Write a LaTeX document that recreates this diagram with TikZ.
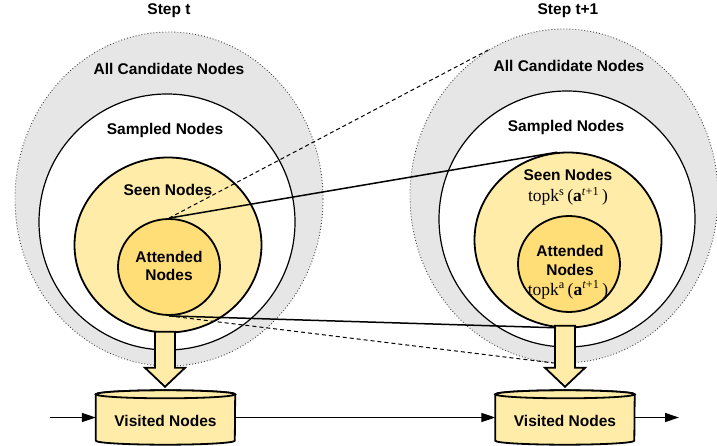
\documentclass[tikz,border=0pt]{standalone}
\usepackage{fontspec}
\setmainfont{Liberation Sans}
\newfontfamily\formulafont{Liberation Serif}
\usetikzlibrary{shapes.geometric,arrows.meta,calc,backgrounds}

\definecolor{candgray}{HTML}{E6E6E6}
\definecolor{seenyellow}{HTML}{FFECA8}
\definecolor{attyellow}{HTML}{FFDE78}

\begin{document}
\begin{tikzpicture}[x=1pt,y=-1pt,
  candidate/.style={ellipse, inner sep=0pt, fill=candgray, draw=black!75,
    dash pattern=on 0.9pt off 2.1pt, line width=0.9pt,
    minimum width=308pt, minimum height=334pt},
  sampled/.style={ellipse, inner sep=0pt, fill=white, draw=black,
    line width=1.2pt, minimum width=256pt, minimum height=256pt},
  seen/.style={ellipse, inner sep=0pt, fill=seenyellow, draw=black,
    line width=1.8pt, minimum width=187pt, minimum height=175pt},
  attended/.style={ellipse, inner sep=0pt, fill=attyellow, draw=black,
    line width=1.8pt, minimum width=102pt, minimum height=96pt},
  lbl/.style={font=\bfseries\fontsize{15.5}{18}\selectfont, anchor=base, inner sep=0pt},
  formula/.style={font=\formulafont\fontsize{17.5}{20}\selectfont, anchor=base, inner sep=0pt},
  visbox/.style={font=\bfseries\fontsize{15.5}{18}\selectfont, inner sep=0pt,
    minimum width=139pt, minimum height=54pt, text height=17pt, text depth=0pt},
  link/.style={line width=1.5pt},
  hint/.style={line width=1pt, dash pattern=on 4pt off 3pt},
  flow/.style={line width=1.3pt, -{Triangle[length=14pt,width=9pt]}},
  pushdown/.style={fill=seenyellow, draw=black, line width=1.8pt, line join=miter},
  drum/.style={fill=seenyellow, draw=black, line width=1.8pt},
]
\useasboundingbox (0,0) rectangle (717,446);

% nested node sets, step t (left) and step t+1 (right)
\node[candidate] (lcand) at (169,199) {};
\node[candidate] (rcand) at (564,196) {};
\node[sampled] (lsamp) at (167,222) {};
\node[sampled] (rsamp) at (567,219) {};
\node[seen] (lseen) at (168,245) {};
\node[seen] (rseen) at (568,240) {};
\node[attended] (latt) at (169,267) {};
\node[attended] (ratt) at (569,264) {};

% titles and set labels
\node[lbl] (lstep) at (169,15) {Step t};
\node[lbl] (rstep) at (568,14.5) {Step t+1};
\node[lbl] (lcandtxt) at (169,75) {All Candidate Nodes};
\node[lbl] (rcandtxt) at (569,72) {All Candidate Nodes};
\node[lbl] (lsamptxt) at (165,135) {Sampled Nodes};
\node[lbl] (rsamptxt) at (566,132) {Sampled Nodes};
\node[lbl] (lseentxt) at (168,196) {Seen Nodes};
\node[lbl] (rseentxt) at (568,181) {Seen Nodes};
\node[formula] (rseenf) at (568,202) {topk\textsuperscript{s}\,(\textbf{a}\textsuperscript{\textit{t}+1}\,)};
\node[lbl] (latttxta) at (169,262) {Attended};
\node[lbl] (latttxtb) at (169,280) {Nodes};
\node[lbl] (ratttxta) at (570,257) {Attended};
\node[lbl] (ratttxtb) at (570,275.5) {Nodes};
\node[formula] (rattf) at (568,295) {topk\textsuperscript{a}\,(\textbf{a}\textsuperscript{\textit{t}+1}\,)};

% projection lines from the attended set at step t
\draw[link] (latt.north) -- (rseen.97);
\draw[hint] (latt.north) -- (rcand.117);
\draw[link] (latt.south) -- (rseen.263);
\draw[hint] (latt.south) -- (rcand.267);

% visited-node stores
\node[visbox] (lvis) at (165.5,417.5) {Visited Nodes};
\node[visbox] (rvis) at (565,417.5) {Visited Nodes};
\begin{pgfonlayer}{background}
  \foreach \v in {lvis,rvis}{
    \filldraw[drum] ($(\v.north west)+(0,4)$) -- ($(\v.south west)+(0,-4)$)
      arc[start angle=180,end angle=360,x radius=69.5pt,y radius=4pt]
      -- ($(\v.north east)+(0,4)$)
      arc[start angle=0,end angle=180,x radius=69.5pt,y radius=4pt] -- cycle;
    \filldraw[drum] ($(\v.north)+(0,4)$) ellipse[x radius=69.5pt,y radius=4pt];
  }
\end{pgfonlayer}

% block arrows from the seen set into the store
\filldraw[pushdown] ($(lvis.north)+(-0.5,-3.5)$) -- ++(20,-19) -- ++(-10,0) -- ++(0,-36)
  -- ++(-20,0) -- ++(0,36) -- ++(-10,0) -- cycle;
\filldraw[pushdown] ($(rvis.north)+(0,-3.5)$) -- ++(20,-19) -- ++(-10,0) -- ++(0,-42)
  -- ++(-20,0) -- ++(0,42) -- ++(-10,0) -- cycle;

% flow between steps
\coordinate (entry) at (50,417.5);
\coordinate (exit) at (679,417.5);
\draw[flow] (entry) -- (entry -| lvis.west);
\draw[flow] (lvis.east) -- (lvis.east -| rvis.west);
\draw[flow] (rvis.east) -- (rvis.east -| exit);
\end{tikzpicture}
\end{document}
